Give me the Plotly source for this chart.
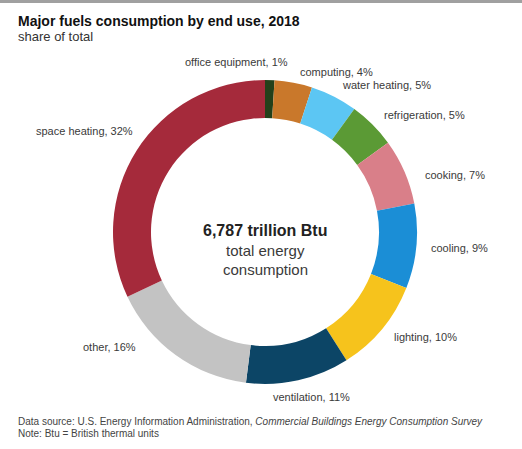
import math
import plotly.graph_objects as go

# End uses in clockwise order starting at 12 o'clock
end_uses = ["office equipment", "computing", "water heating", "refrigeration", "cooking",
            "cooling", "lighting", "ventilation", "other", "space heating"]
shares = [1, 4, 5, 5, 7, 9, 10, 11, 16, 32]
colors = ["#23401a", "#c9782b", "#5cc6f3", "#5b9a35", "#d97f89",
          "#1b8ed6", "#f6c31c", "#0c4566", "#c3c3c3", "#a52a3b"]

W, H = 522, 449
CX, CY, R = 265, 232, 152  # donut centre and outer radius in px
LABEL_R = 165              # radius where slice labels are anchored

# small px nudges so outside labels don't collide: name -> (dx, dy, anchor)
nudges = {
    "office equipment": (20, -5, "right"),
    "computing": (2, 2, "left"),
    "other": (-30, -18, None),
    "space heating": (9, -13, None),
    "cooking": (7, 9, None),
    "ventilation": (11, 4, None),
}

fig = go.Figure(go.Pie(
    labels=end_uses, values=shares, marker=dict(colors=colors, line=dict(width=0)),
    hole=0.75, sort=False, direction="clockwise", rotation=0,
    textinfo="none", hoverinfo="label+percent", showlegend=False,
    domain=dict(x=[(CX - R) / W, (CX + R) / W], y=[1 - (CY + R) / H, 1 - (CY - R) / H]),
))


def paper(px, py):
    return px / W, 1 - py / H


ann = []
total = sum(shares)
cum = 0
for name, v in zip(end_uses, shares):
    mid = (cum + v / 2) / total * 2 * math.pi
    cum += v
    s, c = math.sin(mid), math.cos(mid)
    px, py = CX + LABEL_R * s, CY - LABEL_R * c
    anchor = "left" if s > 0.3 else ("right" if s < -0.3 else "center")
    ndx, ndy, nanc = nudges.get(name, (0, 0, None))
    px += ndx
    py += ndy
    if nanc:
        anchor = nanc
    x, y = paper(px, py)
    ann.append(dict(x=x, y=y, xref="paper", yref="paper",
                    text=f"{name}, {v}%", showarrow=False, xanchor=anchor, yanchor="middle",
                    font=dict(size=11, color="#3a3a3a")))


def text_at(px, py, text, size, color, anchor="left"):
    x, y = paper(px, py)
    return dict(x=x, y=y, xref="paper", yref="paper", xanchor=anchor, yanchor="middle",
                text=text, showarrow=False, font=dict(size=size, color=color))


ann += [
    text_at(16, 21, "<b>Major fuels consumption by end use, 2018</b>", 14, "#111111"),
    text_at(16, 37, "share of total", 13, "#333333"),
    text_at(CX, 230, "<b>6,787 trillion Btu</b>", 16, "#222222", "center"),
    text_at(CX, 250, "total energy", 15, "#3a3a3a", "center"),
    text_at(CX, 269, "consumption", 15, "#3a3a3a", "center"),
    text_at(16, 421, "Data source: U.S. Energy Information Administration, "
                     "<i>Commercial Buildings Energy Consumption Survey</i>", 10, "#444444"),
    text_at(16, 433, "Note: Btu = British thermal units", 10, "#444444"),
]

fig.update_layout(
    width=W, height=H, margin=dict(l=0, r=0, t=0, b=0),
    paper_bgcolor="white", plot_bgcolor="white",
    font=dict(family="Liberation Sans, Arial, sans-serif"),
    annotations=ann,
    shapes=[dict(type="rect", xref="paper", yref="paper", x0=0, x1=1, y0=1 - 3 / H, y1=1,
                 fillcolor="#a0a0a0", line=dict(width=0))],
)

fig.write_html("out.html")
